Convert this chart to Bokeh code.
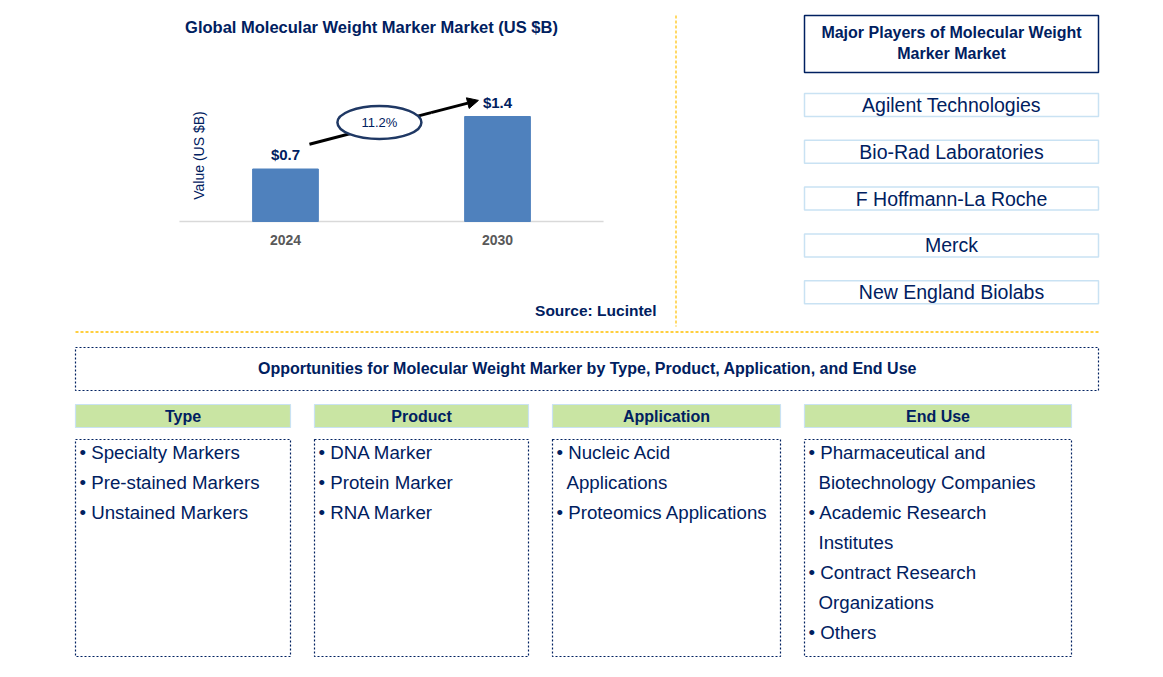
import math
from bokeh.plotting import figure
from bokeh.layouts import column, row
from bokeh.models import Range1d, FactorRange, Arrow, NormalHead
from bokeh.core.properties import value
from bokeh.embed import file_html
from bokeh.resources import INLINE

# ---------------- data ----------------
years = ["2024", "2030"]
market_values = [0.7, 1.4]
value_labels = ["$0.7", "$1.4"]
cagr = "11.2%"
chart_title = "Global Molecular Weight Marker Market (US $B)"
y_title = "Value (US $B)"
source_text = "Source: Lucintel"

players_title = ["Major Players of Molecular Weight", "Marker Market"]
players = ["Agilent Technologies", "Bio-Rad Laboratories", "F Hoffmann-La Roche",
           "Merck", "New England Biolabs"]

opp_title = "Opportunities for Molecular Weight Marker by Type, Product, Application, and End Use"
segment_titles = ["Type", "Product", "Application", "End Use"]
type_items = ["Specialty Markers", "Pre-stained Markers", "Unstained Markers"]
product_items = ["DNA Marker", "Protein Marker", "RNA Marker"]
application_items = ["Nucleic Acid\nApplications", "Proteomics Applications"]
end_use_items = ["Pharmaceutical and\nBiotechnology Companies", "Academic Research\nInstitutes",
                 "Contract Research\nOrganizations", "Others"]
segment_items = [type_items, product_items, application_items, end_use_items]

# ---------------- styles ----------------
NAVY = "#002060"
FONT = "Liberation Sans"
BAR = "#4F81BD"
ORANGE = "#FFC000"
GREEN = "#C9E5A3"
LIGHTBLUE = "#C9E2F3"

TOP_H = 330
BOT_H = 345
BAR_W = 782
TOTAL_W = 1160


def canvas_fig(x0, x1, y0, y1):
    f = figure(width=int(x1 - x0), height=int(y1 - y0),
               x_range=Range1d(x0, x1), y_range=Range1d(y1, y0),
               output_backend="svg", toolbar_location=None,
               x_axis_location=None, y_axis_location=None,
               min_border=0, outline_line_color=None)
    f.xgrid.visible = False
    f.ygrid.visible = False
    return f


def txt(f, x, y, s, size, bold=False, align="center", color=NAVY, angle=0, **kw):
    f.text(x=[x], y=[y], text=[s], text_font=value(FONT), text_font_size=size,
           text_font_style="bold" if bold else "normal", text_color=color,
           text_align=align, text_baseline="middle", angle=angle, **kw)


# ---------------- bar chart (page x 0..782, y 0..330) ----------------
PX_PER_UNIT = 75.0
AXIS_Y = 221
PAD = 0.844
bar = figure(x_range=FactorRange(*years, range_padding=PAD, range_padding_units="absolute"),
             y_range=Range1d(-(TOP_H - AXIS_Y) / PX_PER_UNIT, AXIS_Y / PX_PER_UNIT),
             width=BAR_W, height=TOP_H, output_backend="svg", toolbar_location=None,
             min_border=0, outline_line_color=None)
bar.extra_y_ranges = {"py": Range1d(TOP_H, 0)}
bar.xgrid.visible = False
bar.ygrid.visible = False
bar.yaxis.visible = False


def px2x(sx):
    """page pixel x -> synthetic categorical coordinate of the bar figure"""
    return -PAD + sx * (len(years) + 2 * PAD) / BAR_W


# plot-area baseline (spans the category band)
bar.segment(x0=[0], y0=[0], x1=[len(years)], y1=[0], line_color="#D9D9D9", line_width=1.5)
bar.vbar(x=years, top=market_values, width=0.31, color=BAR)
bar.text(x=years, y=market_values, text=value_labels, text_font=value(FONT),
         text_font_size="15px", text_font_style="bold", text_color=NAVY,
         text_align="center", text_baseline="bottom", y_offset=-6)

xa = bar.xaxis[0]
xa.fixed_location = 0
xa.axis_line_color = None
xa.major_tick_line_color = None
xa.minor_tick_line_color = None
xa.major_label_text_font = FONT
xa.major_label_text_font_style = "bold"
xa.major_label_text_font_size = "14px"
xa.major_label_text_color = "#595959"
xa.major_label_standoff = 7

# CAGR arrow (line under the ellipse, head drawn on top) + ellipse
ax0, ay0, ax1, ay1 = 0.613, 1.03, 1.41, 1.615
t = 0.72
axm, aym = ax0 + t * (ax1 - ax0), ay0 + t * (ay1 - ay0)
bar.segment(x0=[ax0], y0=[ay0], x1=[axm], y1=[aym], line_width=3, line_color="black")
bar.add_layout(Arrow(x_start=axm, y_start=aym, x_end=ax1, y_end=ay1,
                     line_width=3, line_color="black",
                     end=NormalHead(size=11, fill_color="black", line_color="black")))
bar.ellipse(x=[0.943], y=[1.32], width=[84], height=[33], width_units="screen",
            height_units="screen", fill_color="white", line_color="#1F3864", line_width=2.5)
bar.text(x=[0.943], y=[1.32], text=[cagr], text_font=value(FONT), text_font_size="13px",
         text_color=NAVY, text_align="center", text_baseline="middle")

# texts in page pixel coordinates
pykw = dict(y_range_name="py")
txt(bar, px2x(371), 26, chart_title, "16.5px", bold=True, **pykw)
txt(bar, px2x(198), 155, y_title, "14px", angle=math.pi / 2, **pykw)
txt(bar, px2x(656), 310, source_text, "15.5px", bold=True, align="right", **pykw)
bar.segment(x0=[px2x(675.5)], y0=[15], x1=[px2x(675.5)], y1=[326], line_color=ORANGE,
            line_width=1.2, line_dash="3 2", **pykw)

# ---------------- players (page x 782..1160, y 0..330) ----------------
pl = canvas_fig(BAR_W, TOTAL_W, 0, TOP_H)
pl.quad(left=[804], right=[1098], top=[15], bottom=[72], fill_color="white",
        line_color=NAVY, line_width=1.5)
txt(pl, 951, 32, players_title[0], "16px", bold=True)
txt(pl, 951, 53, players_title[1], "16px", bold=True)
for i, name in enumerate(players):
    yc = 104.5 + i * 46.8
    pl.quad(left=[804], right=[1098], top=[yc - 11.5], bottom=[yc + 11.5],
            fill_color="white", line_color=LIGHTBLUE, line_width=1.5)
    txt(pl, 951, yc, name, "19.5px")

# ---------------- opportunities (page x 0..1160, y 330..675) ----------------
op = canvas_fig(0, TOTAL_W, TOP_H, TOP_H + BOT_H)
op.segment(x0=[75], y0=[331.5], x1=[1098], y1=[331.5], line_color=ORANGE,
           line_width=1.3, line_dash="3 2")
op.quad(left=[75], right=[1098], top=[347], bottom=[390], fill_color=None,
        line_color=NAVY, line_width=1.2, line_dash="2 2")
txt(op, 587, 368, opp_title, "16px", bold=True)

col_left = [75, 314, 552, 804]
col_right = [290, 528, 780, 1071]
for k, title in enumerate(segment_titles):
    l, r = col_left[k], col_right[k]
    op.quad(left=[l], right=[r], top=[404], bottom=[427], fill_color=GREEN,
            line_color=LIGHTBLUE, line_width=1.2)
    txt(op, (l + r) / 2, 415.5, title, "16px", bold=True)
    op.quad(left=[l], right=[r], top=[439], bottom=[656], fill_color=None,
            line_color=NAVY, line_width=1.2, line_dash="2 2")
    yline = 452
    for item in segment_items[k]:
        parts = item.split("\n")
        txt(op, l + 4, yline, "\u2022 " + parts[0], "18.7px", align="left")
        yline += 30
        for cont in parts[1:]:
            txt(op, l + 14, yline, cont, "18.7px", align="left")
            yline += 30

layout = column(row(bar, pl), op)
open("out.html", "w").write(file_html(layout, INLINE))
